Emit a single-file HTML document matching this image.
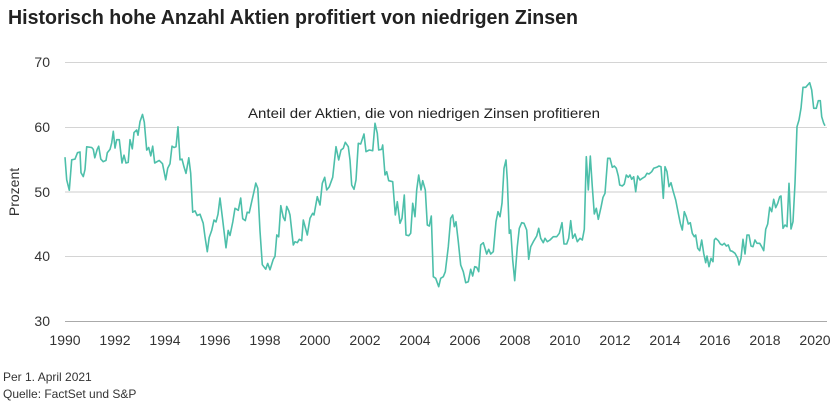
<!DOCTYPE html>
<html><head><meta charset="utf-8"><style>body{margin:0;background:#fff}svg{display:block}text{font-family:"Liberation Sans",sans-serif}</style></head><body>
<svg id="s" width="840" height="404" viewBox="0 0 840 404" xmlns="http://www.w3.org/2000/svg">
<text x="8" y="24" font-size="20" font-weight="bold" fill="#222" textLength="570" lengthAdjust="spacingAndGlyphs">Historisch hohe Anzahl Aktien profitiert von niedrigen Zinsen</text>
<g stroke="#d4d4d4" stroke-width="1">
<line x1="65" x2="827" y1="62.5" y2="62.5"/><line x1="65" x2="827" y1="127.5" y2="127.5"/><line x1="65" x2="827" y1="192" y2="192" stroke="#e6e6e6" stroke-width="2"/><line x1="65" x2="827" y1="256.5" y2="256.5"/>
</g>
<line x1="65" x2="827" y1="321.5" y2="321.5" stroke="#aaa" stroke-width="1"/>
<g font-size="14" fill="#333" text-anchor="end">
<text x="50" y="67">70</text><text x="50" y="132">60</text><text x="50" y="197">50</text><text x="50" y="261">40</text><text x="50" y="326">30</text>
</g>
<text transform="translate(19,192) rotate(-90)" font-size="14" fill="#333" text-anchor="middle">Prozent</text>
<g font-size="14" fill="#333" text-anchor="middle">
<text x="65" y="345">1990</text><text x="115" y="345">1992</text><text x="165" y="345">1994</text><text x="215" y="345">1996</text><text x="265" y="345">1998</text><text x="315" y="345">2000</text><text x="365" y="345">2002</text><text x="415" y="345">2004</text><text x="465" y="345">2006</text><text x="515" y="345">2008</text><text x="565" y="345">2010</text><text x="615" y="345">2012</text><text x="665" y="345">2014</text><text x="715" y="345">2016</text><text x="765" y="345">2018</text><text x="815" y="345">2020</text>
</g>
<text x="248" y="118" font-size="14" fill="#222" textLength="352" lengthAdjust="spacingAndGlyphs">Anteil der Aktien, die von niedrigen Zinsen profitieren</text>
<text x="3" y="381" font-size="12" fill="#333">Per 1. April 2021</text>
<text x="3" y="398" font-size="12" fill="#333">Quelle: FactSet und S&amp;P</text>
<polyline id="ln" fill="none" stroke="#4dbfaa" stroke-width="1.6" stroke-linejoin="round" points=""/>
</svg>
<script>
var a=[1990.0,55.3,1990.07,51.8,1990.17,50.2,1990.27,54.9,1990.4,55,1990.5,56,1990.6,56.1,1990.64,52.9,1990.73,52.3,1990.8,53.4,1990.87,56.9,1991.07,56.8,1991.13,56.5,1991.19,55.2,1991.29,56.5,1991.35,57,1991.43,55,1991.53,54.6,1991.64,54.8,1991.69,56,1991.8,56.5,1991.87,57.5,1991.93,59.3,1992.0,56.7,1992.07,58,1992.17,58,1992.28,54.4,1992.36,55.6,1992.44,54.4,1992.53,54.5,1992.6,58,1992.69,56.6,1992.76,59.1,1992.87,59.5,1992.92,58.7,1993.0,60.8,1993.1,61.9,1993.17,60.7,1993.27,56.4,1993.35,56.8,1993.43,55.5,1993.51,57,1993.59,54.4,1993.77,54.8,1993.9,54.3,1994.03,51.8,1994.11,53.6,1994.2,54.3,1994.28,57,1994.36,56.8,1994.44,56.9,1994.52,60,1994.6,54.9,1994.68,55,1994.76,53.8,1994.84,52.8,1994.95,55.2,1995.03,52.8,1995.11,46.8,1995.2,47,1995.29,46.3,1995.4,46.5,1995.53,45.1,1995.6,43,1995.69,40.7,1995.77,42.9,1995.87,44,1995.96,45.6,1996.04,45.3,1996.12,46.5,1996.2,49,1996.31,45.6,1996.44,41.3,1996.53,44,1996.6,43.2,1996.71,45.3,1996.8,47.4,1996.93,47.1,1997.03,49,1997.11,45.8,1997.21,45.5,1997.29,46.8,1997.37,46.7,1997.47,48.5,1997.56,50,1997.63,51.3,1997.71,50.5,1997.8,43.9,1997.89,38.7,1998.03,38,1998.11,38.9,1998.2,37.9,1998.33,39.5,1998.4,40,1998.47,43.3,1998.55,43,1998.63,47.8,1998.73,46,1998.8,45.5,1998.87,47.7,1998.95,47];
var b=[0,375,10,465,15,455,22,458,28,448,35,452,40,390,52,435,60,385,68,370,72,375,82,320,90,345,97,280,104,262,110,300,118,290,128,262,138,170,146,210,153,180,160,175,166,157,175,170,180,210,185,285,192,298,198,270,205,160,212,162,222,132,228,185,238,180,248,182,255,100,262,130,266,180,275,178,278,165,285,255,290,245,296,272,308,275,316,375,322,335,330,400,336,385,343,315,348,435,356,437,362,430,368,340,375,380,380,300,386,255,393,300,398,272,406,300,412,405,418,408,424,378,430,560,437,565,446,590,452,565,460,560,466,545,475,470,482,385,488,375,493,410,498,395,505,455,512,525,520,545,527,578,535,575,542,538,548,558,554,530,560,532,566,545,572,465,580,458,590,492,596,478,602,492,610,485,618,395,624,365,630,380,636,340,642,235,648,210,652,270,658,430,662,420,668,510,674,572,682,470,688,415,695,398,702,400,710,420,716,508,722,470,730,455,740,438,746,415,752,445,760,458,765,445,772,455,780,450,790,440,800,440,808,430,816,398,822,462,830,462,836,445,842,392,848,445,855,432,862,455,870,445];
var c=[65,572,72,548,78,612,84,610,90,590,96,542,102,595,108,580,114,600,120,595,126,598,132,600,138,568,144,350,150,450,156,348,162,440,168,522,174,505,180,538,188,502,194,472,200,460,208,355,215,355,222,382,228,378,234,385,240,408,244,435,252,438,258,432,264,405,270,412,275,405,280,418,286,410,292,455,298,408,305,420,312,415,320,410,326,400,332,402,340,395,346,385,355,382,362,378,368,380,375,475,380,380,386,395,392,440,398,428,404,452,412,480,420,520,426,550,432,570,438,515,444,530,450,552,456,548,462,580,468,590,472,585,478,625,484,632,490,600,496,640,502,668,506,648,512,680,518,655,524,665,528,600,532,595,540,602,546,612,552,615,558,610,564,618,570,615,576,632,582,634,590,640,598,655,602,675,608,655,614,598,620,642,626,585,632,585,638,618,644,620,650,600,656,610,664,610,670,620,676,632,682,568,688,552,694,502,700,515,706,478,712,503,718,490,724,470,728,468,734,565,740,555,746,560,752,430,758,567,764,545,770,430,776,260,782,240,788,205,794,142,802,142,808,135,814,128,820,150,826,205,834,205,840,182,846,182,850,230,856,250,860,257];
var p=[];
for(var i=0;i<a.length;i+=2)p.push((65+(a[i]-1990)*25).toFixed(1)+","+(321-(a[i+1]-30)*6.475).toFixed(1));
for(i=0;i<b.length;i+=2)p.push((290+b[i]/3).toFixed(1)+","+(90+b[i+1]/3).toFixed(1));
for(i=0;i<c.length;i+=2){var x=560+(c[i]-65)/3;if(x>580.5)p.push(x.toFixed(1)+","+(40+c[i+1]/3).toFixed(1));}
document.getElementById("ln").setAttribute("points",p.join(" "));
</script>
</body></html>
